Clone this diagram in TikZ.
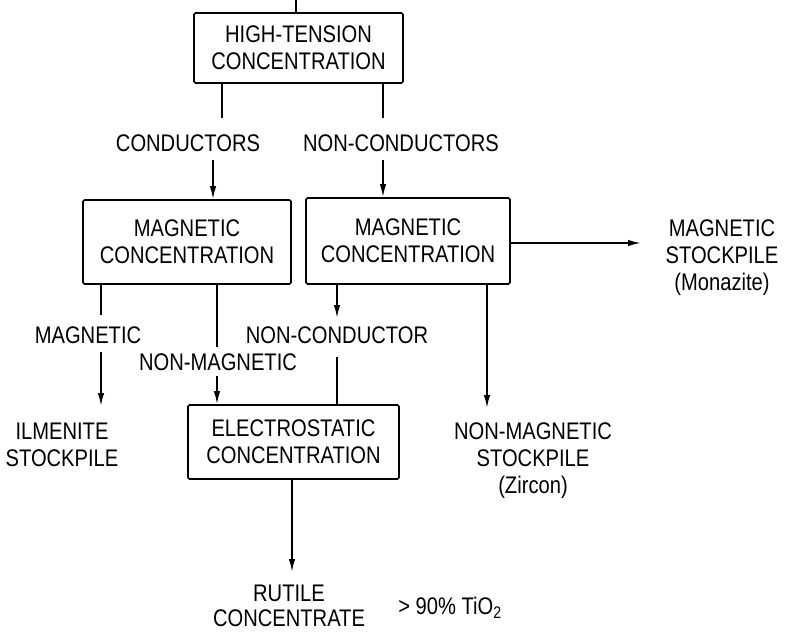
\documentclass[tikz,border=0pt]{standalone}
\usepackage{fontspec}
\setmainfont[FakeStretch=0.84]{Liberation Sans}
\usetikzlibrary{arrows.meta}
\begin{document}
\begin{tikzpicture}[x=1pt,y=-1pt,
  every node/.style={font=\fontsize{24}{27}\selectfont, align=center},
  box/.style={draw, line width=1.7pt, rounded corners=1.5pt, inner sep=0pt},
  lbl/.style={inner xsep=2pt, inner ysep=0pt},
  ln/.style={line width=1.7pt},
  arr/.style={line width=1.7pt, -{Latex[length=13pt,width=6.5pt]}}]
\useasboundingbox (0,0) rectangle (801,633);
% boxes
\node[box, minimum width=209, minimum height=70] (ht) at (298.5,48) {HIGH-TENSION\\CONCENTRATION};
\node[box, minimum width=208, minimum height=84] (mcl) at (187,242) {MAGNETIC\\CONCENTRATION};
\node[box, minimum width=204, minimum height=86] (mcr) at (408,241) {MAGNETIC\\CONCENTRATION};
\node[box, minimum width=211, minimum height=74] (es) at (293.5,442) {ELECTROSTATIC\\CONCENTRATION};
% labels
\node[lbl] (cond) at (188,143) {CONDUCTORS};
\node[lbl] (ncond) at (401,143) {NON-CONDUCTORS};
\node[lbl] (magl) at (88,335) {MAGNETIC};
\node[lbl] (nmag) at (218,362) {NON-MAGNETIC};
\node[lbl] (ncon) at (337,335) {NON-CONDUCTOR};
\node[lbl] (ilm) at (62,445) {ILMENITE\\STOCKPILE};
\node[lbl] (zirc) at (533,461) {NON-MAGNETIC\\STOCKPILE\\(Zircon)};
\node[lbl] (mona) at (722,258) {MAGNETIC\\STOCKPILE\\(Monazite)};
\node[lbl, font=\fontsize{24}{25}\selectfont] (rut) at (289,606) {RUTILE\\CONCENTRATE};
\node[lbl] (tio) at (450,608) {\textgreater{} 90\% TiO\textsubscript{2}};
% coordinates for free ends / x positions
\coordinate (top) at (296,0);
\coordinate (x1) at (222,0);
\coordinate (x2) at (213,0);
\coordinate (x3) at (383,0);
\coordinate (x4) at (101,0);
\coordinate (x5) at (217,0);
\coordinate (x6) at (337,0);
\coordinate (x7) at (487,0);
\coordinate (x8) at (292,0);
\coordinate (m1) at (0,118);
\coordinate (m2) at (0,160);
\coordinate (m3) at (0,315);
\coordinate (m4) at (0,352);
\coordinate (m5) at (0,347);
\coordinate (m6) at (0,376);
\coordinate (m7) at (0,318);
\coordinate (m8) at (0,357);
\coordinate (m9) at (0,406);
\coordinate (m10) at (0,408);
\coordinate (m11) at (0,572);
\coordinate (e1) at (641,243);
% connectors
\draw[ln] (top) -- (ht.north -| top);
\draw[ln] (ht.south -| x1) -- (m1 -| x1);
\draw[arr] (m2 -| x2) -- (mcl.north -| x2);
\draw[ln] (ht.south -| x3) -- (m1 -| x3);
\draw[arr] (m2 -| x3) -- (mcr.north -| x3);
\draw[ln] (mcl.south -| x4) -- (m3 -| x4);
\draw[arr] (m4 -| x4) -- (m9 -| x4);
\draw[ln] (mcl.south -| x5) -- (m5 -| x5);
\draw[arr] (m6 -| x5) -- (es.north -| x5);
\draw[arr] (mcr.south -| x6) -- (m7 -| x6);
\draw[ln] (m8 -| x6) -- (es.north -| x6);
\draw[arr] (mcr.south -| x7) -- (m10 -| x7);
\draw[arr] (mcr.east |- e1) -- (e1);
\draw[arr] (es.south -| x8) -- (m11 -| x8);
\end{tikzpicture}
\end{document}
